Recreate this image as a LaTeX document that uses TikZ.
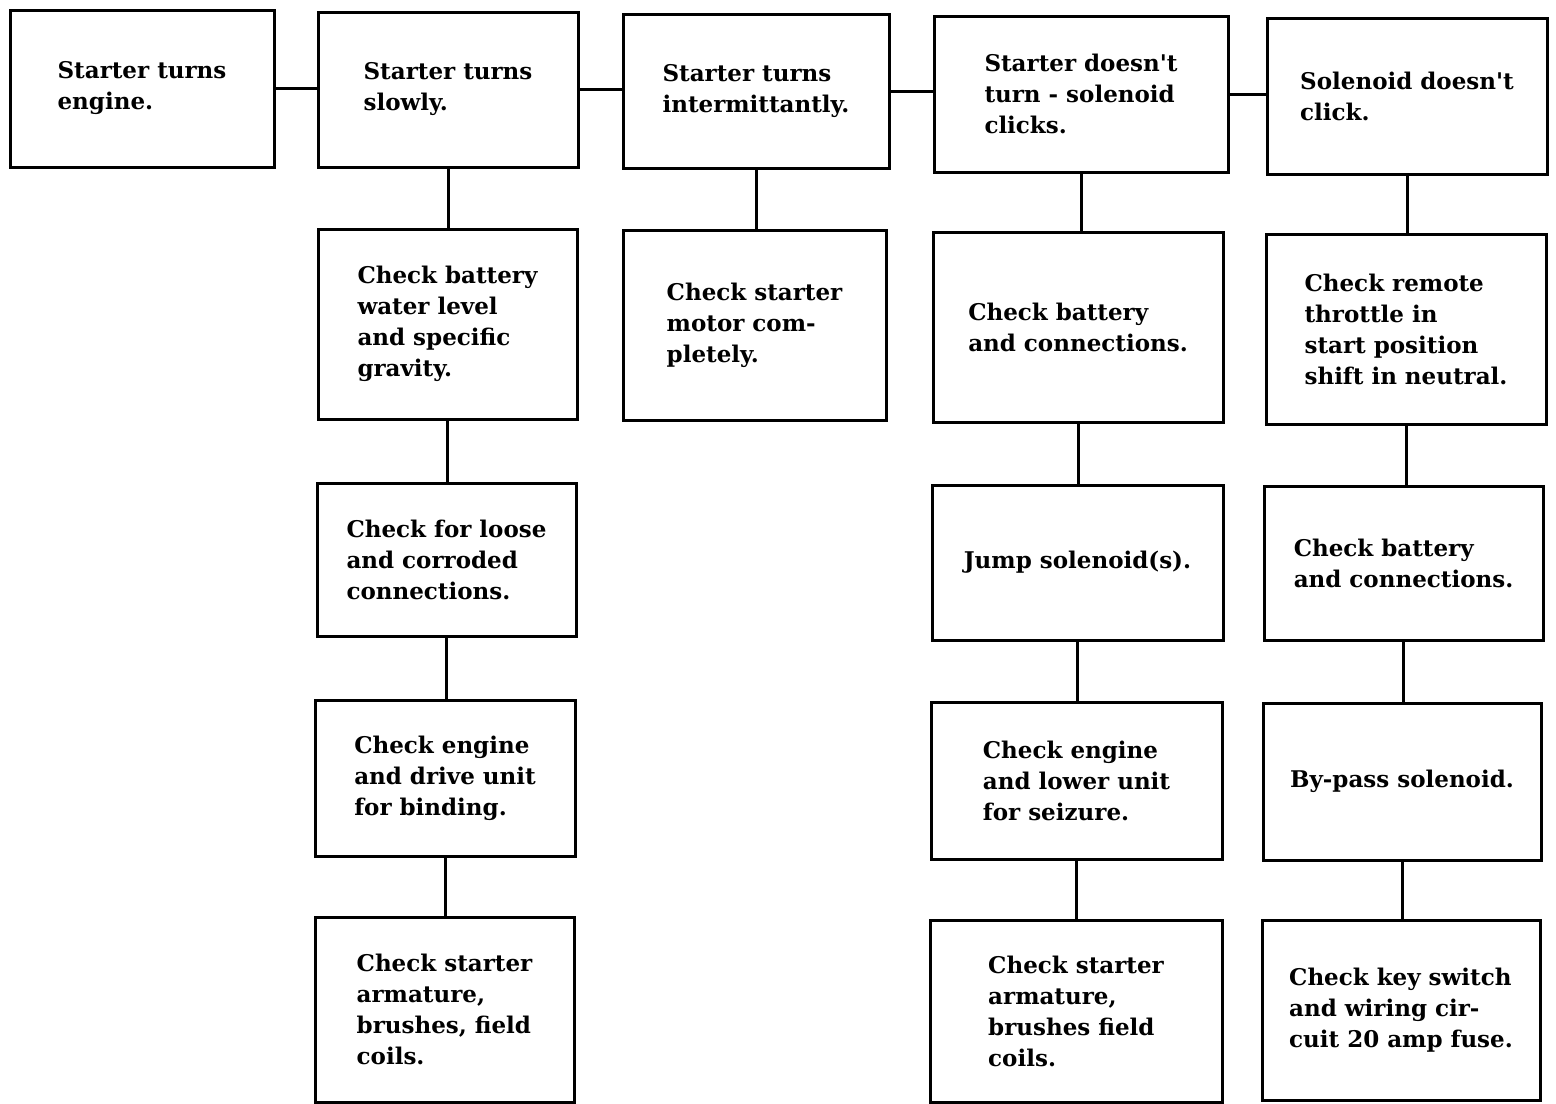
\documentclass[tikz,border=0pt]{standalone}
\usepackage{fontspec}
\setmainfont{DejaVu Serif}
\begin{document}
\begin{tikzpicture}[x=0.5pt,y=-0.5pt,
  box/.style={draw=black, line width=1.5pt, align=left, inner sep=0pt,
    font=\bfseries\fontsize{11.5}{15.5}\selectfont},
  link/.style={draw=black, line width=1.5pt}]
\useasboundingbox (0,0) rectangle (1556,1103);
% top row
\node[box, minimum width=132pt, minimum height=78.5pt] (A1) at (142,88.5) {Starter turns\\engine.\hspace*{24pt}};
\node[box, minimum width=130pt, minimum height=77.5pt] (A2) at (448,89.5) {Starter turns\\slowly.};
\node[box, minimum width=133pt, minimum height=77pt] (A3) at (756,91) {Starter turns\\intermittantly.};
\node[box, minimum width=147pt, minimum height=78pt] (A4) at (1081,94) {Starter doesn\textquotesingle t\\turn - solenoid\\clicks.};
\node[box, minimum width=140pt, minimum height=78pt] (A5) at (1407,96) {Solenoid doesn\textquotesingle t\\click.};
% column 2
\node[box, minimum width=129.5pt, minimum height=95pt] (B2) at (447.5,324) {Check battery\\water level\\and specific\\gravity.};
\node[box, minimum width=129.5pt, minimum height=76.5pt] (C2) at (446.5,559.5) {Check for loose\\and corroded\\connections.};
\node[box, minimum width=130pt, minimum height=78pt] (D2) at (445,778) {Check engine\\and drive unit\\for binding.};
\node[box, minimum width=129.5pt, minimum height=92.5pt] (E2) at (444.5,1009.5) {Check starter\\armature,\\brushes, field\\coils.};
% column 3
\node[box, minimum width=131.5pt, minimum height=95pt] (B3) at (754.5,325) {Check starter\\motor com-\\pletely.};
% column 4
\node[box, minimum width=145pt, minimum height=95pt] (B4) at (1078,327) {Check battery\\and connections.};
\node[box, minimum width=145.5pt, minimum height=77.5pt] (C4) at (1077.5,562.5) {Jump solenoid(s).};
\node[box, minimum width=145.5pt, minimum height=78.5pt] (D4) at (1076.5,780.5) {Check engine\\and lower unit\\for seizure.};
\node[box, minimum width=146pt, minimum height=91pt] (E4) at (1076,1011) {Check starter\\armature,\\brushes field\\coils.};
% column 5
\node[box, minimum width=140pt, minimum height=95pt] (B5) at (1406,329) {Check remote\\throttle in\\start position\\shift in neutral.};
\node[box, minimum width=139.5pt, minimum height=77pt] (C5) at (1403.5,563) {Check battery\\and connections.};
\node[box, minimum width=139pt, minimum height=78.5pt] (D5) at (1402,781.5) {By-pass solenoid.};
\node[box, minimum width=139pt, minimum height=90pt] (E5) at (1401,1010) {Check key switch\\and wiring cir-\\cuit 20 amp fuse.};
% horizontal links
\draw[link] (A1.east) -- (A1.east -| A2.west);
\draw[link] (A2.east) -- (A2.east -| A3.west);
\draw[link] (A3.east) -- (A3.east -| A4.west);
\draw[link] (A4.east) -- (A4.east -| A5.west);
% vertical links
\draw[link] (A2.south) -- (A2.south |- B2.north);
\draw[link] (B2.south) -- (B2.south |- C2.north);
\draw[link] (C2.south) -- (C2.south |- D2.north);
\draw[link] (D2.south) -- (D2.south |- E2.north);
\draw[link] (A3.south) -- (A3.south |- B3.north);
\draw[link] (A4.south) -- (A4.south |- B4.north);
\draw[link] (B4.south) -- (B4.south |- C4.north);
\draw[link] (C4.south) -- (C4.south |- D4.north);
\draw[link] (D4.south) -- (D4.south |- E4.north);
\draw[link] (A5.south) -- (A5.south |- B5.north);
\draw[link] (B5.south) -- (B5.south |- C5.north);
\draw[link] (C5.south) -- (C5.south |- D5.north);
\draw[link] (D5.south) -- (D5.south |- E5.north);
\end{tikzpicture}
\end{document}
